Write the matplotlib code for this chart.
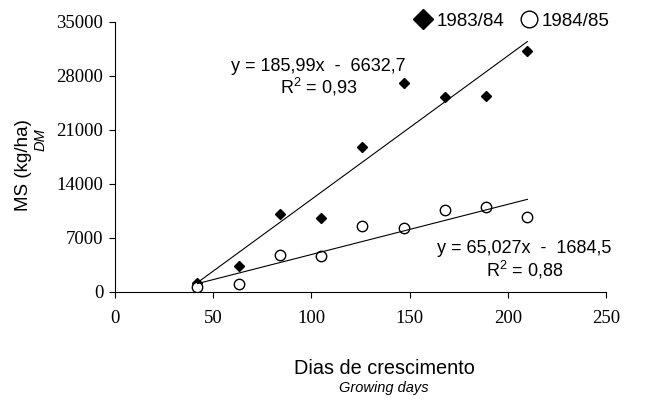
import numpy as np
import matplotlib
matplotlib.use("Agg")
import matplotlib.pyplot as plt
from matplotlib.lines import Line2D

# Dados
dias = [42, 63, 84, 105, 126, 147, 168, 189, 210]
ms_8384 = [1100, 3300, 10100, 9500, 18800, 27000, 25200, 25400, 31200]
ms_8485 = [550, 950, 4800, 4600, 8550, 8200, 10600, 11000, 9700]

# Coeficientes das regressões (do próprio gráfico)
reg_8384 = (185.99, -6632.7)
reg_8485 = (65.027, -1684.5)

x_ticks = [0, 50, 100, 150, 200, 250]
y_ticks = [0, 7000, 14000, 21000, 28000, 35000]

plt.rcParams['font.family'] = 'Liberation Sans'
plt.rcParams['mathtext.default'] = 'regular'

fig = plt.figure(figsize=(6.59, 4.01), dpi=100)
ax = fig.add_axes([0.1745, 0.2726, 0.745, 0.6733])

ax.plot(dias, ms_8384, linestyle='none', marker='D', markersize=5.5,
        color='black')
ax.plot(dias, ms_8485, linestyle='none', marker='o', markersize=7.5,
        markerfacecolor='white', markeredgecolor='black', markeredgewidth=1)

# linhas de tendência
xr = np.array([dias[0], dias[-1]])
ax.plot(xr, reg_8384[0] * xr + reg_8384[1], color='black', linewidth=0.8)
ax.plot(xr, reg_8485[0] * xr + reg_8485[1], color='black', linewidth=0.8)

ax.text(103.5, 29150, "y = 185,99x  -  6632,7", ha='center', va='center', fontsize=13)
ax.text(104, 26550, "R$^2$ = 0,93", ha='center', va='center', fontsize=13)
ax.text(208.5, 5650, "y = 65,027x  -  1684,5", ha='center', va='center', fontsize=13)
ax.text(208.5, 2800, "R$^2$ = 0,88", ha='center', va='center', fontsize=13)

ax.set_xlim(0, 250)
ax.set_ylim(0, 35000)
ax.set_xticks(x_ticks)
ax.set_yticks(y_ticks)
ax.spines['top'].set_visible(False)
ax.spines['right'].set_visible(False)
ax.tick_params(direction='out', length=4.5, width=0.8)
ax.tick_params(axis='x', pad=9)
ax.tick_params(axis='y', pad=4)
for lab in ax.get_xticklabels() + ax.get_yticklabels():
    lab.set_fontfamily('Liberation Serif')
    lab.set_fontsize(13.5)

# rótulos dos eixos (português + inglês)
fig.text(384 / 659, 1 - 368 / 401, "Dias de crescimento", ha='center', va='center', fontsize=14.3)
fig.text(384 / 659, 1 - 388 / 401, "Growing days", ha='center', va='center', fontsize=10.5,
         style='italic')
fig.text(23 / 659, 1 - 165 / 401, "MS (kg/ha)", ha='center', va='center', fontsize=13.5,
         rotation=90)
fig.text(41 / 659, 1 - 140 / 401, "DM", ha='center', va='center', fontsize=10.5,
         rotation=90, style='italic')

handles = [
    Line2D([], [], linestyle='none', marker='D', markersize=10, color='black'),
    Line2D([], [], linestyle='none', marker='o', markersize=12,
           markerfacecolor='white', markeredgecolor='black'),
]
fig.legend(handles, ["1983/84", "1984/85"], loc='center right',
           bbox_to_anchor=(619 / 659, 1 - 21 / 401), ncol=2, frameon=False,
           fontsize=13.5, borderpad=0, handlelength=1.0, handletextpad=0.2,
           columnspacing=0.8)

plt.savefig("out.png", dpi=100)
